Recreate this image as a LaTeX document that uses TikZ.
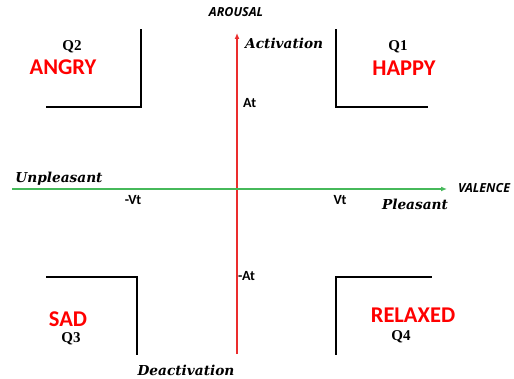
\documentclass[tikz,border=0pt]{standalone}
\usepackage{fontspec}
\usepackage{tikz}
\usetikzlibrary{arrows.meta}
\newfontfamily\emofont{Carlito}
\newfontfamily\quadfont{Liberation Serif}
\newfontfamily\polefont{DejaVu Serif}
\newfontfamily\axisfont{Open Sans}
\definecolor{axisred}{RGB}{235,45,45}
\definecolor{axisgreen}{RGB}{70,185,90}

\begin{document}
\begin{tikzpicture}[x=1pt, y=-1pt,
    emotion/.style={text=red, font=\emofont\bfseries\fontsize{22.5}{24}\selectfont, inner sep=0pt},
    quad/.style={font=\quadfont\bfseries\fontsize{15}{16}\selectfont, inner sep=0pt},
    pole/.style={font=\polefont\bfseries\itshape\fontsize{13.7}{15}\selectfont, inner sep=0pt},
    axisname/.style={font=\axisfont\bfseries\itshape\fontsize{12.5}{14}\selectfont, inner sep=0pt},
    tickname/.style={font=\emofont\bfseries\fontsize{14}{16}\selectfont, inner sep=0pt},
    corner/.style={line width=2.2pt, line cap=rect}]
    \useasboundingbox (0,0) rectangle (514,379);

    % axes
    \coordinate (vlow) at (237,354);
    \coordinate (vhigh) at (237,33);
    \coordinate (hleft) at (12,189);
    \coordinate (hright) at (447,189);
    \draw[axisred, line width=1.3pt, -{Latex[length=6pt,width=5pt]}] (vlow) -- (vhigh);
    \draw[axisgreen, line width=1.3pt, -{Latex[length=6pt,width=5pt]}] (hleft) -- (hright);

    \node[axisname] (arousal) at (236,12) {AROUSAL};
    \node[axisname, anchor=west] (valence) at (458,188) {VALENCE};
    \node[pole, anchor=west] (activ) at (245,43) {Activation};
    \node[pole] (deactiv) at (186,370) {Deactivation};
    \node[pole] (unpleas) at (59,179) {Unpleasant};
    \node[pole] (pleas) at (415,204) {Pleasant};

    \node[tickname, anchor=west] (at) at (243,103) {At};
    \node[tickname, anchor=west] (minusat) at (238,276) {-At};
    \node[tickname] (vt) at (340,200) {Vt};
    \node[tickname] (minusvt) at (133,200) {-Vt};

    % quadrant corners
    \draw[corner] (47,107) -- (141,107) -- (141,30);
    \draw[corner] (336,30) -- (336,107) -- (427,107);
    \draw[corner] (47,277) -- (137,277) -- (137,354);
    \draw[corner] (336,354) -- (336,277) -- (431,277);

    \node[quad] (q2) at (72,47) {Q2};
    \node[emotion] (angry) at (63,67) {ANGRY};
    \node[quad] (q1) at (398,47) {Q1};
    \node[emotion] (happy) at (404,68) {HAPPY};
    \node[emotion] (sad) at (68,319) {SAD};
    \node[quad] (q3) at (71,339) {Q3};
    \node[emotion] (relaxed) at (413,315) {RELAXED};
    \node[quad] (q4) at (401,337) {Q4};
\end{tikzpicture}
\end{document}
